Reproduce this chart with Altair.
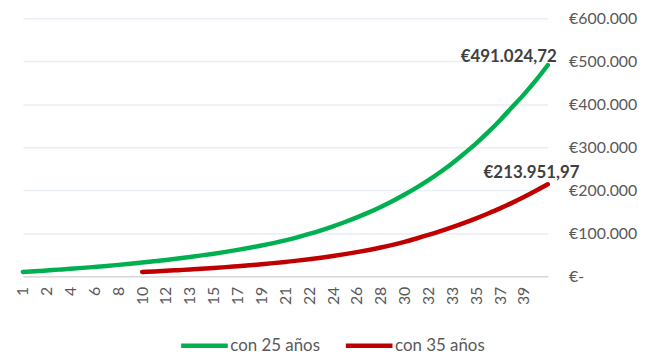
import altair as alt
import pandas as pd

# ---- data ----
series_names = ["con 25 años", "con 35 años"]
series_colors = ["#00b050", "#c00000"]

# 45 categories on the x axis (index 0..44); only every other one is labelled
tick_labels = ["1", "2", "4", "6", "8", "10", "12", "13", "15", "17", "19",
               "21", "22", "24", "26", "28", "30", "32", "33", "35", "37", "39"]

green_values = [10000, 11700, 13500, 15400, 17400, 19500, 21700, 24000, 26500, 29100,
                31900, 34900, 38000, 41300, 44800, 48500, 52500, 56800, 61400, 66300,
                71500, 77100, 83400, 90500, 98500, 107000, 116200, 126200, 137000, 148600,
                161200, 175000, 190000, 206000, 223500, 242500, 263000, 285500, 309000, 335000,
                363000, 393000, 423000, 455500, 491024.72]

red_start = 10
red_values = [10000, 11300, 12700, 14200, 15800, 17500, 19300, 21200, 23300, 25500,
              27900, 30500, 33300, 36300, 39600, 43200, 47100, 51400, 56100, 61200,
              66800, 73000, 80000, 87800, 96000, 104800, 114200, 124200, 134800, 146000,
              157800, 170700, 184200, 198700, 213951.97]

y_ticks = [0, 100000, 200000, 300000, 400000, 500000, 600000]

# ---- build table ----
rows = []
for i, v in enumerate(green_values):
    rows.append({"idx": i, "valor": v, "serie": series_names[0]})
for j, v in enumerate(red_values):
    rows.append({"idx": red_start + j, "valor": v, "serie": series_names[1]})
df = pd.DataFrame(rows)


def es_money(v):
    s = f"{v:,.2f}"
    s = s.replace(",", "X").replace(".", ",").replace("X", ".")
    return "€" + s


end_rows = pd.DataFrame([
    {"idx": len(green_values) - 1, "valor": green_values[-1], "serie": series_names[0],
     "txt": es_money(green_values[-1])},
    {"idx": red_start + len(red_values) - 1, "valor": red_values[-1], "serie": series_names[1],
     "txt": es_money(red_values[-1])},
])

FONT = "Lato"
GREY = "#595959"

label_array = "[" + ",".join(f"'{t}'" for t in tick_labels) + "]"
x_enc = alt.X(
    "idx:Q",
    scale=alt.Scale(domain=[0, len(green_values) - 1], nice=False, zero=False),
    axis=alt.Axis(
        title=None,
        values=[2 * k for k in range(len(tick_labels))],
        tickCount=100,
        labelExpr=label_array + "[round(datum.value/2)]",
        labelAngle=270,
        labelFontSize=16,
        labelFont=FONT,
        labelColor=GREY,
        labelPadding=10,
        labelOverlap=False,
        labelSeparation=0,
        labelBound=False,
        ticks=False,
        grid=False,
        domainColor="#d9d9d9",
        domainWidth=1.5,
    ),
)
y_enc = alt.Y(
    "valor:Q",
    scale=alt.Scale(domain=[0, 600000], nice=False),
    axis=alt.Axis(
        title=None,
        orient="right",
        values=y_ticks,
        labelExpr="datum.value == 0 ? '€-' : '€' + replace(format(datum.value, ',.0f'), ',', '.')",
        labelFontSize=16,
        labelFont=FONT,
        labelColor=GREY,
        labelPadding=21,
        labelAlign="left",
        ticks=False,
        domain=False,
        grid=True,
        gridColor="#e9eef5",
        gridWidth=1.5,
    ),
)

lines = alt.Chart(df).mark_line(strokeWidth=4.5, interpolate="monotone", strokeCap="round").encode(
    x=x_enc,
    y=y_enc,
    color=alt.Color(
        "serie:N",
        scale=alt.Scale(domain=series_names, range=series_colors),
        legend=alt.Legend(
            title=None,
            orient="none",
            legendX=157,
            legendY=304,
            direction="horizontal",
            symbolType="stroke",
            symbolSize=2209,
            symbolStrokeWidth=4.5,
            labelFontSize=17,
            labelFont=FONT,
            labelColor=GREY,
            labelOffset=0,
            columnPadding=16,
        ),
    ),
    detail="serie:N",
)

lab_green = alt.Chart(end_rows[end_rows.serie == series_names[0]]).mark_text(
    align="right", baseline="bottom", dx=9, dy=1, fontSize=17, fontWeight="bold",
    font=FONT, color="#404040"
).encode(x="idx:Q", y="valor:Q", text="txt:N")

lab_red = alt.Chart(end_rows[end_rows.serie == series_names[1]]).mark_text(
    align="right", baseline="bottom", dx=32, dy=-2, fontSize=17, fontWeight="bold",
    font=FONT, color="#404040"
).encode(x="idx:Q", y="valor:Q", text="txt:N")

chart = alt.layer(lines, lab_green, lab_red).properties(
    width=529,
    height=260,
    autosize=alt.AutoSizeParams(type="none"),
    padding={"left": 15, "top": 9, "right": 102, "bottom": 78},
    background="white",
).configure_view(stroke=None).configure_axis(labelOverlap=False)

chart.save("out.html", embed_options={"renderer": "svg", "actions": False})
